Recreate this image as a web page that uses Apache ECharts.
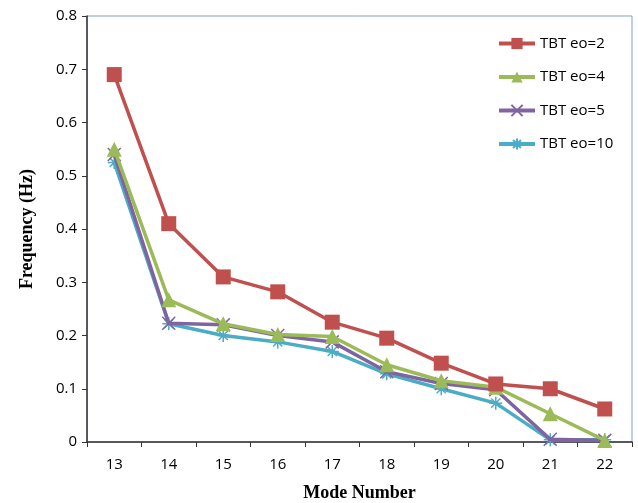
<!DOCTYPE html>
<html><head><meta charset="utf-8">
<script src="https://cdn.jsdelivr.net/npm/echarts@6/dist/echarts.min.js"></script>
<style>html,body{margin:0;padding:0;background:#fff}#c{width:638px;height:503px}</style>
</head><body><div id="c"></div>
<script>
const categories = ['13','14','15','16','17','18','19','20','21','22'];
const seriesNames = ['TBT eo=2','TBT eo=4','TBT eo=5','TBT eo=10'];
const eo2  = [0.69, 0.41, 0.31, 0.282, 0.225, 0.195, 0.148, 0.109, 0.100, 0.062];
const eo4  = [0.55, 0.267, 0.222, 0.202, 0.198, 0.145, 0.115, 0.103, 0.053, 0.003];
const eo5  = [0.54, 0.223, 0.220, 0.200, 0.188, 0.132, 0.110, 0.098, 0.005, 0.003];
const eo10 = [0.525, 0.222, 0.200, 0.188, 0.170, 0.128, 0.100, 0.073, 0.004, 0.004];
const yTicks = [0, 0.1, 0.2, 0.3, 0.4, 0.5, 0.6, 0.7, 0.8];

const colors = ['#c0504d', '#9bbb59', '#8064a2', '#4bacc6'];
const crossPath = 'path://M0,0L10,10M10,0L0,10';
const starPath = 'path://M5,0L5,10M0,5L10,5M1.5,1.5L8.5,8.5M8.5,1.5L1.5,8.5';
const symbols = ['rect', 'triangle', crossPath, starPath];
const sizes = [15, 15, 13, 13];
const datas = [eo2, eo4, eo5, eo10];

const chart = echarts.init(document.getElementById('c'), null, {renderer: 'canvas'});
const font = '"Open Sans", "Liberation Sans", sans-serif';
chart.setOption({
  animation: false,
  backgroundColor: '#fff',
  grid: {left: 87, right: 6, top: 16, bottom: 61, show: true, borderColor: '#7f9fd0', borderWidth: 1,
         containLabel: false, outerBoundsMode: 'none'},
  legend: {
    orient: 'vertical', left: 492, top: 31, itemGap: 18.5, itemWidth: 36, itemHeight: 14,
    lineStyle: {width: 4},
    textStyle: {fontFamily: font, fontSize: 15, color: '#000'},
    data: seriesNames
  },
  xAxis: {
    type: 'category', data: categories, boundaryGap: true,
    name: 'Mode Number', nameLocation: 'middle', nameGap: 42,
    nameTextStyle: {fontFamily: '"Liberation Serif", serif', fontWeight: 'bold', fontSize: 18, color: '#000'},
    axisLine: {lineStyle: {color: '#333', width: 1.5}},
    axisTick: {show: true, alignWithLabel: false, length: 5, lineStyle: {color: '#333'}},
    axisLabel: {fontFamily: font, fontSize: 15, color: '#000', margin: 15}
  },
  yAxis: {
    type: 'value', min: 0, max: 0.8, interval: 0.1,
    name: 'Frequency (Hz)', nameLocation: 'middle', nameGap: 51,
    nameTextStyle: {fontFamily: '"Liberation Serif", serif', fontWeight: 'bold', fontSize: 18, color: '#000'},
    axisLine: {show: true, lineStyle: {color: '#333', width: 1.5}},
    axisTick: {show: true, length: 5, lineStyle: {color: '#333'}},
    splitLine: {show: false},
    axisLabel: {fontFamily: font, fontSize: 15, color: '#000', margin: 10,
      formatter: v => { const t = yTicks.find(x => Math.abs(x - v) < 1e-9); return t === 0 ? '0' : String(+v.toFixed(1)); }}
  },
  series: seriesNames.map((n, i) => ({
    name: n, type: 'line', data: datas[i],
    color: colors[i],
    symbol: symbols[i], symbolSize: sizes[i],
    showAllSymbol: true,
    lineStyle: {color: colors[i], width: 3.5},
    itemStyle: i >= 2 ? {color: colors[i], borderColor: colors[i], borderWidth: 1.5} : {color: colors[i]},
    z: 10 - i
  }))
});
</script></body></html>
